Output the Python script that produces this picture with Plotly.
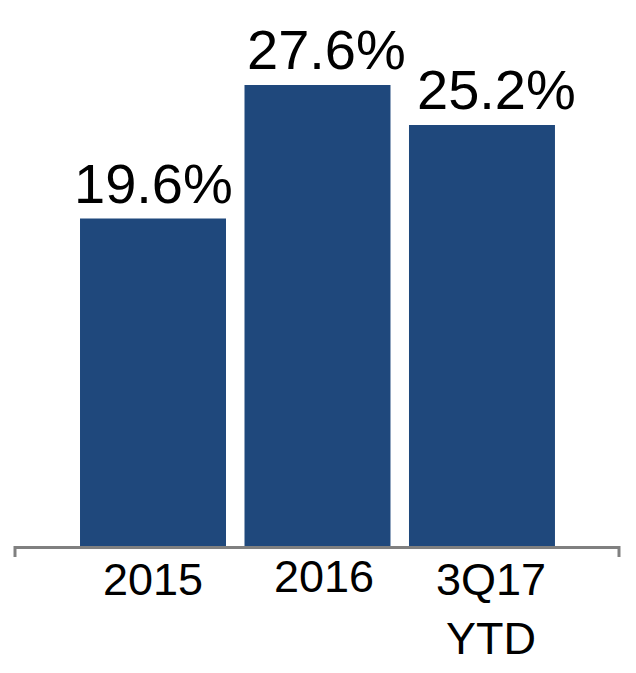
import plotly.graph_objects as go

categories = ["2015", "2016", "3Q17<br>YTD"]
values = [19.6, 27.6, 25.2]
labels = ["19.6%", "27.6%", "25.2%"]

BAR_COLOR = "#1F487C"
FONT = "Liberation Sans, Arial, sans-serif"
# the source deck nudges some labels off-centre, keep that
label_shift = [0, 9, 15]
tick_shift = [0, 7, 9]
tick_drop = [-6, -3, -6]

fig = go.Figure()
fig.add_bar(x=categories, y=values, marker=dict(color=BAR_COLOR, line=dict(width=0)))

# category axis -> annotate by index, "2015" would otherwise be read as a number
for i, (val, txt, dx) in enumerate(zip(values, labels, label_shift)):
    fig.add_annotation(x=i, y=val, text=txt, showarrow=False,
                       yanchor="bottom", xanchor="center", xshift=dx, yshift=2,
                       font=dict(family=FONT, size=56, color="black"))

# category names drawn as annotations so each can be nudged like the original
for i, (cat, dx, dy) in enumerate(zip(categories, tick_shift, tick_drop)):
    fig.add_annotation(x=i, y=0, xref="x", yref="paper", text=cat, showarrow=False,
                       yanchor="top", xanchor="center", xshift=dx, yshift=dy,
                       font=dict(family=FONT, size=45, color="black"))

# little end ticks on the category axis
for xp in (0, 1):
    fig.add_shape(type="line", xref="paper", yref="paper", x0=xp, x1=xp,
                  ysizemode="pixel", yanchor=0, y0=0, y1=-11,
                  line=dict(color="#808080", width=3))

fig.update_layout(
    width=636, height=673,
    margin=dict(l=15, r=17, t=10, b=127, autoexpand=False),
    paper_bgcolor="white", plot_bgcolor="white",
    bargap=0.1125,
    showlegend=False,
    font=dict(family=FONT, color="black"),
    xaxis=dict(type="category", range=[-0.839, 2.833], showline=True,
               linecolor="#808080", linewidth=3, automargin=False,
               showgrid=False, ticks="", showticklabels=False),
    yaxis=dict(range=[0, 32.09], visible=False, automargin=False),
)

fig.write_html("out.html", config={"displayModeBar": False},
               post_script="document.body.style.margin='0';")
